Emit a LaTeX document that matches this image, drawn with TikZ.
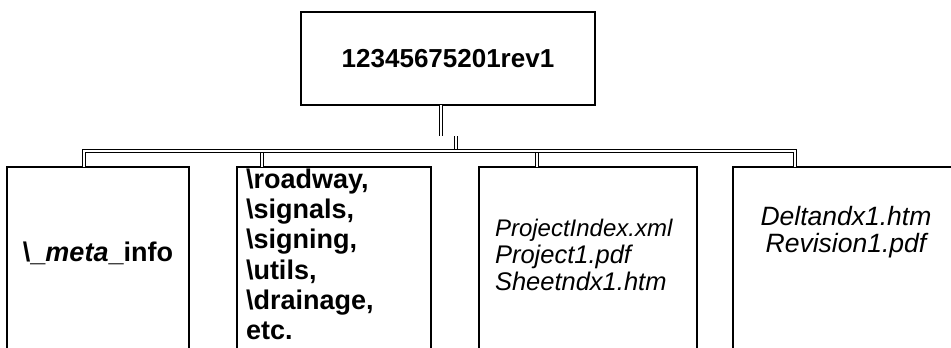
\documentclass[tikz,border=0pt]{standalone}
\usepackage{fontspec}
\setmainfont{Liberation Sans}
\usetikzlibrary{positioning}

\begin{document}
\begin{tikzpicture}[
  x=1pt,
  y=-1pt,
  every node/.style={inner sep=0pt,outer sep=0pt},
  folderbox/.style={draw=black,line width=1.8pt,anchor=north west},
  wire/.style={draw=black,double=white,line width=0.9pt,double distance=2.4pt},
  boldtext/.style={font=\fontsize{27}{30.2}\selectfont\bfseries},
  filetext/.style={font=\fontsize{25.5}{27}\selectfont\itshape}
]
\useasboundingbox (0,0) rectangle (951,348);
\clip (0,0) rectangle (951,348);

% Revision folder on top.
\node[folderbox,minimum width=294,minimum height=93] (root) at (301,12) {};
\node[font=\fontsize{26}{30}\selectfont\bfseries] (rootlabel) at (root.center) {12345675201rev1};

% Four boxes below, running off the bottom edge.
\node[folderbox,minimum width=182,minimum height=220] (meta) at (7,167) {};
\node[folderbox,minimum width=194,minimum height=220] (roads) at (237,167) {};
\node[folderbox,minimum width=218,minimum height=220] (project) at (479,167) {};
\node[folderbox,minimum width=240,minimum height=220] (delta) at (733,167) {};

\node[boldtext] (metalabel) at (meta.north |- 0,253) {\textbackslash\_\textit{meta}\_info};
\node[boldtext,align=left,anchor=north west,below right=2pt and 9pt of roads.north west] (roadslabel)
  {\textbackslash roadway,\\\textbackslash signals,\\\textbackslash signing,\\\textbackslash utils,\\\textbackslash drainage,\\etc.};
\node[filetext,align=left,anchor=north west,below right=52pt and 16pt of project.north west] (projectlabel)
  {{\fontsize{24}{27}\selectfont ProjectIndex.xml}\\Project1.pdf\\Sheetndx1.htm};
\node[filetext,font=\fontsize{26.5}{27}\selectfont\itshape,align=center] (deltalabel) at (846,232) {Deltandx1.htm\\Revision1.pdf};

% Double-line connectors.
\coordinate (drop) at (441,136);
\coordinate (jog) at (456,136);
\coordinate (busL) at (84,151);
\coordinate (busR) at (795,151);
\coordinate (tapR) at (262,151);
\coordinate (tapP) at (537,151);

\draw[wire] (root.south -| drop) -- (drop);
\draw[wire] (jog) -- (jog |- busL);
\draw[wire] (tapR) -- (roads.north -| tapR);
\draw[wire] (tapP) -- (project.north -| tapP);
\draw[wire] (meta.north -| busL) -- (busL) -- (busR) -- (delta.north -| busR);

\end{tikzpicture}
\end{document}
